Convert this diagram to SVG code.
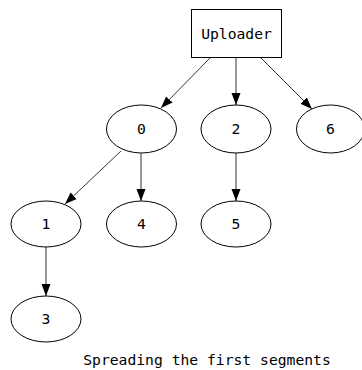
<svg xmlns="http://www.w3.org/2000/svg" width="362" height="370" viewBox="0 0 362 370">
<style>
text{font-family:"DejaVu Sans Mono","Liberation Mono",monospace;font-size:14.7px;fill:#000;text-anchor:middle}
.n{fill:#fff;stroke:#000;stroke-width:1}
.e{fill:none;stroke:#333;stroke-width:1}
</style>
<defs>
<marker id="a" markerUnits="userSpaceOnUse" markerWidth="12" markerHeight="10" viewBox="0 0 12 10" refX="12" refY="5" orient="auto">
<path d="M0,0.5 L12,5 L0,9.5 Z" fill="#000"/>
</marker>
</defs>
<rect width="362" height="370" fill="#fff"/>
<g id="edges">
<path class="e" d="M211,57 L161,108" marker-end="url(#a)"/>
<path class="e" d="M236,57 L236,105" marker-end="url(#a)"/>
<path class="e" d="M260,57 L312,109" marker-end="url(#a)"/>
<path class="e" d="M121,151 L65,204" marker-end="url(#a)"/>
<path class="e" d="M141,153 L141,201" marker-end="url(#a)"/>
<path class="e" d="M236,153 L236,201" marker-end="url(#a)"/>
<path class="e" d="M46,247 L46,296" marker-end="url(#a)"/>
</g>
<g id="uploader"><rect class="n" x="191.5" y="9.5" width="90" height="48"/><text x="236.5" y="39">Uploader</text></g>
<g id="n0"><ellipse class="n" cx="141.5" cy="129" rx="35" ry="24"/><text x="141.5" y="134">0</text></g>
<g id="n2"><ellipse class="n" cx="236" cy="129" rx="35" ry="24"/><text x="236" y="134">2</text></g>
<g id="n6"><ellipse class="n" cx="330.5" cy="129" rx="34" ry="24"/><text x="330.5" y="134">6</text></g>
<g id="n1"><ellipse class="n" cx="46" cy="224" rx="35" ry="23"/><text x="46" y="229">1</text></g>
<g id="n4"><ellipse class="n" cx="141.5" cy="224" rx="35" ry="23"/><text x="141.5" y="229">4</text></g>
<g id="n5"><ellipse class="n" cx="236" cy="224" rx="35" ry="23"/><text x="236" y="229">5</text></g>
<g id="n3"><ellipse class="n" cx="46" cy="319" rx="35" ry="23"/><text x="46" y="324">3</text></g>
<text x="207" y="365">Spreading the first segments</text>
</svg>
